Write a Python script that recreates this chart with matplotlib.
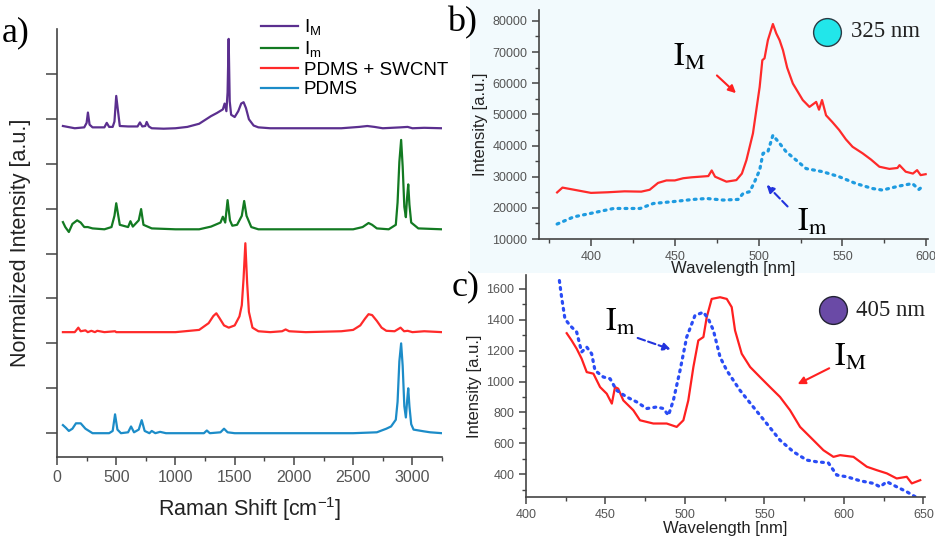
import matplotlib
matplotlib.use("Agg")
import matplotlib.pyplot as plt
from matplotlib.patches import Rectangle
from matplotlib.ticker import MultipleLocator, NullFormatter

plt.rcParams['font.family'] = ['Liberation Sans', 'DejaVu Sans']
plt.rcParams['mathtext.fontset'] = 'custom'
plt.rcParams['mathtext.rm'] = 'Liberation Sans'
plt.rcParams['mathtext.it'] = 'Liberation Sans:italic'

### a) Raman spectra, values in units of one y tick above each baseline
pdms_x = [50, 75, 100, 130, 160, 200, 240, 300, 440, 470, 490, 510, 540, 600, 625, 650, 690, 715, 740, 780,
          800, 830, 870, 920, 1000, 1240, 1265, 1290, 1380, 1410, 1440, 1500, 2000, 2500, 2700, 2780, 2820,
          2860, 2875, 2890, 2905, 2918, 2932, 2945, 2955, 2965, 2975, 2990, 3010, 3100, 3150, 3250]
pdms_y = [0.18, 0.12, 0.05, 0.10, 0.22, 0.22, 0.10, 0.0, 0.0, 0.05, 0.42, 0.08, 0.0, 0.02, 0.15, 0.02, 0.08,
          0.29, 0.05, 0.0, 0.05, 0.0, 0.03, 0.0, 0.0, 0.0, 0.06, 0.0, 0.02, 0.10, 0.02, 0.0, 0.0, 0.0, 0.02,
          0.10, 0.15, 0.30, 0.7, 1.6, 2.0, 1.5, 0.6, 0.35, 0.7, 1.0, 0.6, 0.2, 0.08, 0.04, 0.02, 0.0]

swcnt_x = [50, 150, 180, 200, 240, 260, 290, 320, 340, 400, 490, 500, 600, 1000, 1200, 1280, 1320, 1345,
           1370, 1410, 1450, 1500, 1540, 1560, 1575, 1590, 1605, 1620, 1650, 1700, 1800, 1900, 1930, 1960,
           2100, 2400, 2500, 2560, 2600, 2630, 2660, 2700, 2740, 2780, 2850, 2900, 2930, 2960, 3000, 3100, 3250]
swcnt_y = [0.0, 0.0, 0.10, 0.02, 0.04, 0.0, 0.03, 0.0, 0.03, 0.0, 0.02, 0.0, 0.0, 0.0, 0.05, 0.20, 0.36,
           0.42, 0.32, 0.15, 0.10, 0.15, 0.35, 0.60, 1.2, 1.98, 1.1, 0.45, 0.10, 0.02, 0.0, 0.02, 0.06, 0.02,
           0.0, 0.02, 0.05, 0.15, 0.30, 0.40, 0.38, 0.25, 0.10, 0.03, 0.02, 0.10, 0.02, 0.03, 0.0, 0.02, 0.0]

im_x = [50, 70, 100, 130, 170, 200, 230, 260, 300, 400, 460, 485, 500, 530, 600, 620, 640, 690, 710, 730,
        800, 1000, 1200, 1300, 1380, 1400, 1420, 1440, 1460, 1480, 1520, 1560, 1580, 1600, 1640, 1700, 2000,
        2500, 2580, 2630, 2660, 2700, 2800, 2860, 2875, 2890, 2905, 2918, 2932, 2945, 2955, 2965, 2975,
        2990, 3050, 3250]
im_y = [0.16, 0.05, -0.06, 0.12, 0.20, 0.15, 0.05, 0.05, 0.02, 0.0, 0.05, 0.30, 0.58, 0.10, 0.05, 0.18,
        0.06, 0.20, 0.45, 0.10, 0.02, 0.0, 0.0, 0.06, 0.15, 0.28, 0.15, 0.65, 0.20, 0.08, 0.10, 0.30, 0.63,
        0.30, 0.05, 0.0, 0.0, 0.0, 0.05, 0.14, 0.10, 0.02, 0.0, 0.10, 0.6, 1.5, 1.99, 1.4, 0.5, 0.27, 0.7,
        1.0, 0.55, 0.15, 0.02, 0.0]

iM_x = [50, 150, 230, 250, 261, 275, 300, 400, 420, 440, 470, 485, 500, 530, 600, 680, 700, 720, 745, 757,
        775, 800, 900, 1000, 1100, 1200, 1300, 1350, 1400, 1415, 1430, 1440, 1449, 1458, 1470, 1500, 1530,
        1555, 1575, 1595, 1620, 1660, 1700, 1800, 2000, 2400, 2550, 2620, 2680, 2750, 2900, 2960, 3000,
        3100, 3250]
iM_y = [0.05, 0.0, 0.02, 0.12, 0.35, 0.08, 0.02, 0.02, 0.12, 0.03, 0.03, 0.15, 0.72, 0.05, 0.04, 0.04,
        0.13, 0.04, 0.05, 0.14, 0.04, 0.0, -0.01, 0.0, 0.03, 0.10, 0.27, 0.34, 0.42, 0.55, 0.38, 0.8, 1.99,
        0.6, 0.30, 0.25, 0.38, 0.55, 0.58, 0.45, 0.20, 0.06, 0.02, 0.0, 0.0, 0.0, 0.03, 0.05, 0.03, 0.0,
        0.02, 0.03, 0.0, 0.01, 0.0]

raman_labels = [r'I$_\mathrm{M}$', r'I$_\mathrm{m}$', 'PDMS + SWCNT', 'PDMS']
raman_offsets = [6.79, 4.54, 2.25, 0.0]
raman_colors = ['#5b2f8f', '#137a22', '#ff2a2a', '#1c8cc8']

### b) 325 nm excitation
b_iM_x = [379.8, 383, 390, 400, 410, 420, 430, 435, 440, 445, 450, 455, 460, 465, 470, 472, 474, 480.8,
          486.7, 490, 492.7, 496.6, 500.6, 502.2, 503.5, 505.5, 508.5, 510.5, 512.5, 514.5, 517, 520.4,
          526.3, 530.3, 534.3, 536, 537.8, 540.2, 544, 548, 552, 556, 562, 567, 572, 578, 582.8, 584,
          587.7, 592, 594.5, 596.6, 599.6]
b_iM_y = [24950, 26500, 25800, 24800, 25000, 25300, 25200, 25800, 28000, 28800, 28800, 29500, 29800, 30000,
          30200, 32000, 30000, 28400, 28900, 31000, 35300, 43900, 58800, 67400, 68000, 73800, 79000, 76000,
          73800, 70600, 65000, 59900, 54600, 52400, 54000, 51500, 54600, 49700, 47500, 45000, 42000, 39600,
          37500, 35500, 33200, 32500, 32800, 33700, 31600, 31000, 32100, 30500, 30800]

b_im_x = [379.8, 389.7, 399.6, 413.5, 429.3, 437.2, 449, 461, 469, 478.8, 487.7, 490.7, 494.7, 497.6,
          500.6, 502.6, 505.5, 508.5, 512.5, 516.4, 522.4, 528.3, 538.2, 548, 558, 567.9, 573.8, 583.8,
          591.7, 595.6, 598.6]
b_im_y = [14800, 17100, 18200, 19800, 19800, 21400, 22000, 22700, 23000, 22500, 22700, 24600, 25200, 28400,
          32100, 37500, 38000, 43300, 40700, 38000, 35300, 32600, 31600, 30000, 27800, 26200, 25700, 27000,
          27800, 25900, 27300]

### c) 405 nm excitation
c_iM_x = [425.6, 428.7, 431.9, 435, 438.2, 442.4, 446.6, 450.8, 454, 456, 458, 461.2, 467.5, 471.7,
          480.1, 488.5, 494.8, 499, 502.1, 505.3, 508.4, 511.6, 513.7, 516.8, 522.1, 526.3, 529.4, 531.5,
          535.7, 541, 547.2, 553.5, 559.8, 566.1, 572.4, 580.8, 587.1, 593.4, 597.6, 606, 614.4, 620.6,
          627, 633.2, 639.5, 642.7, 648]
c_iM_y = [1313, 1266, 1212, 1148, 1061, 1051, 964, 921, 857, 964, 954, 878, 814, 749, 728, 728, 706, 749,
          878, 1094, 1266, 1288, 1417, 1535, 1546, 1535, 1482, 1331, 1180, 1094, 1029, 964, 900, 814, 706,
          620, 555, 512, 523, 512, 448, 426, 405, 372, 383, 340, 361]

c_im_x = [421, 422.4, 424.5, 427.7, 431.9, 435, 438.2, 441.3, 443.4, 448.7, 452.9, 457, 463.3, 469.6,
          475.9, 482.2, 486.4, 489.6, 492.7, 496.9, 501.1, 506.3, 511.6, 514.7, 517.9, 522.1, 526.3, 534.6,
          543, 551.4, 559.8, 568.2, 576.6, 582.9, 590.2, 595.5, 601.8, 610.2, 618.6, 622.7, 627, 633.2,
          639.5, 644.8]
c_im_y = [1654, 1546, 1406, 1363, 1320, 1191, 1223, 1180, 1072, 1029, 1018, 943, 900, 868, 825, 835, 825,
          781, 878, 1072, 1288, 1428, 1449, 1406, 1331, 1158, 1072, 943, 835, 728, 620, 545, 491, 480, 473,
          394, 383, 357, 340, 318, 351, 318, 286, 254]

W, H = 935, 541
fig = plt.figure(figsize=(W / 100, H / 100), dpi=100)

def frac(x0, y0, x1, y1):
    # pixel box -> figure fraction [left, bottom, width, height]
    return [x0 / W, 1 - y1 / H, (x1 - x0) / W, (y1 - y0) / H]

spine_c = '#444444'
tick_c = '#555555'

def style_axes(ax, labelsize):
    for s in ['top', 'right']:
        ax.spines[s].set_visible(False)
    for s in ['left', 'bottom']:
        ax.spines[s].set_color(spine_c)
        ax.spines[s].set_linewidth(1.2)
    ax.tick_params(which='both', direction='out', color=spine_c, labelcolor=tick_c, labelsize=labelsize)
    ax.tick_params(which='major', length=5, width=1.1)
    ax.tick_params(which='minor', length=3, width=1.0)

# light background behind panel b
fig.patches.append(Rectangle((470 / W, 1 - 273 / H), 1 - 470 / W, 273 / H, transform=fig.transFigure,
                             facecolor='#f2fafd', edgecolor='none', zorder=-1))

###panel a
ax_a = fig.add_axes(frac(57, 29, 442, 457))
for xs, ys, off, col, lab in zip([iM_x, im_x, swcnt_x, pdms_x], [iM_y, im_y, swcnt_y, pdms_y],
                                 raman_offsets, raman_colors, raman_labels):
    ax_a.plot(xs, [v + off for v in ys], color=col, lw=1.6, label=lab)
ax_a.set_xlim(0, 3250)
ax_a.set_ylim(-0.53, 9.0)
ax_a.xaxis.set_major_locator(MultipleLocator(500))
ax_a.xaxis.set_minor_locator(MultipleLocator(250))
ax_a.set_yticks(range(0, 9))
ax_a.yaxis.set_major_formatter(NullFormatter())
style_axes(ax_a, 11.5)
ax_a.tick_params(axis='y', which='major', length=8)
ax_a.tick_params(axis='x', which='major', length=6)
ax_a.set_xlabel(r'Raman Shift [cm$^{-1}$]', fontsize=15.5, color='#222222', labelpad=7)
ax_a.set_ylabel('Normalized Intensity [a.u.]', fontsize=15.5, color='#222222', labelpad=7)
ax_a.legend(loc='upper left', bbox_to_anchor=(0.51, 1.045), frameon=False, fontsize=13.5,
            handlelength=2.0, handletextpad=0.3, labelspacing=0.12, borderaxespad=0)
fig.text(2 / W, 1 - 33 / H, 'a)', family='Liberation Serif', fontsize=26, va='center', ha='left')

###panel b
ax_b = fig.add_axes(frac(539, 10, 928, 239))
ax_b.set_facecolor('none')
ax_b.plot(b_iM_x, b_iM_y, color='#ff2a2a', lw=1.6)
ax_b.plot(b_im_x, b_im_y, color='#1e9be0', lw=2.3, linestyle=(0, (0.6, 1.6)), dash_capstyle='round')
ax_b.set_xlim(369, 601)
ax_b.set_ylim(10000, 83500)
ax_b.xaxis.set_major_locator(MultipleLocator(50))
ax_b.xaxis.set_minor_locator(MultipleLocator(25))
ax_b.yaxis.set_major_locator(MultipleLocator(10000))
ax_b.yaxis.set_minor_locator(MultipleLocator(5000))
style_axes(ax_b, 9)
ax_b.set_xlabel('Wavelength [nm]', fontsize=12, color='#222222', labelpad=-1)
ax_b.set_ylabel('Intensity [a.u.]', fontsize=12, color='#222222', labelpad=3)
ax_b.text(458.9, 68100, r'$\mathrm{I}_\mathrm{M}$', math_fontfamily='stix', fontsize=23,
          ha='center', va='center')
ax_b.annotate('', xy=(487.7, 56200), xytext=(473.9, 63100),
              arrowprops=dict(arrowstyle='-|>', color='#ff2020', lw=1.5, mutation_scale=11))
ax_b.text(532.1, 15200, r'$\mathrm{I}_\mathrm{m}$', math_fontfamily='stix', fontsize=23,
          ha='center', va='center')
ax_b.annotate('', xy=(503.6, 28000), xytext=(518.4, 19800),
              arrowprops=dict(arrowstyle='-|>', color='#2233dd', lw=1.5, ls='--', mutation_scale=11))
ax_b.plot([0.74], [0.904], 'o', transform=ax_b.transAxes, ms=20, mfc='#22e6ea', mec='#2a3a44',
          mew=1.0, clip_on=False)
ax_b.text(0.802, 0.904, '325 nm', transform=ax_b.transAxes, family='Liberation Serif', fontsize=16.5,
          va='center', ha='left', color='#222222')
fig.text(447 / W, 1 - 23 / H, 'b)', family='Liberation Serif', fontsize=26, va='center', ha='left')

###panel c
ax_c = fig.add_axes(frac(526, 275, 925, 497))
ax_c.set_facecolor('none')
ax_c.plot(c_iM_x, c_iM_y, color='#ff2020', lw=1.6)
ax_c.plot(c_im_x, c_im_y, color='#2a4cf5', lw=2.3, linestyle=(0, (0.6, 1.6)), dash_capstyle='round')
ax_c.set_xlim(400, 651)
ax_c.set_ylim(252, 1690)
ax_c.xaxis.set_major_locator(MultipleLocator(50))
ax_c.xaxis.set_minor_locator(MultipleLocator(25))
ax_c.yaxis.set_major_locator(MultipleLocator(200))
ax_c.yaxis.set_minor_locator(MultipleLocator(100))
style_axes(ax_c, 9)
ax_c.set_xlabel('Wavelength [nm]', fontsize=12, color='#222222', labelpad=0)
ax_c.set_ylabel('Intensity [a.u.]', fontsize=12, color='#222222', labelpad=3)
ax_c.text(459.2, 1381, r'$\mathrm{I}_\mathrm{m}$', math_fontfamily='stix', fontsize=23,
          ha='center', va='center')
ax_c.annotate('', xy=(492.7, 1202), xytext=(468.6, 1288),
              arrowprops=dict(arrowstyle='-|>', color='#2233dd', lw=1.5, ls='--', mutation_scale=11))
ax_c.text(603.9, 1155, r'$\mathrm{I}_\mathrm{M}$', math_fontfamily='stix', fontsize=23,
          ha='center', va='center')
ax_c.annotate('', xy=(569.3, 975), xytext=(592.3, 1094),
              arrowprops=dict(arrowstyle='-|>', color='#ff2020', lw=1.5, mutation_scale=11))
ax_c.plot([0.77], [0.842], 'o', transform=ax_c.transAxes, ms=20, mfc='#6a4aa6', mec='#222233',
          mew=1.0, clip_on=False)
ax_c.text(0.828, 0.842, '405 nm', transform=ax_c.transAxes, family='Liberation Serif', fontsize=16.5,
          va='center', ha='left', color='#222222')
fig.text(452 / W, 1 - 287 / H, 'c)', family='Liberation Serif', fontsize=26, va='center', ha='left')

fig.savefig('out.png', dpi=100)
